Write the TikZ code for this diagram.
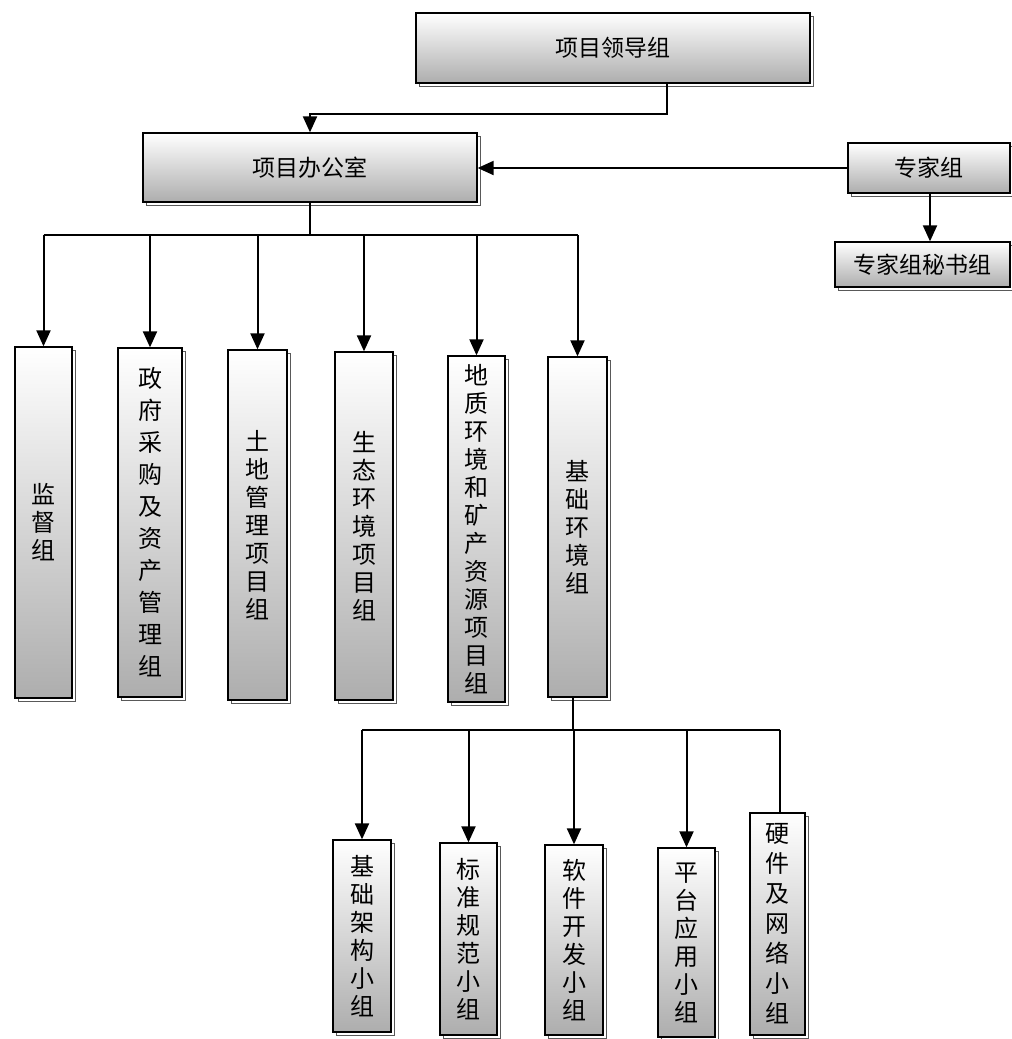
\documentclass[tikz,border=0pt]{standalone}
\usepackage{fontspec}
\newfontfamily\cjk{Noto Sans CJK SC}
\usetikzlibrary{arrows.meta,shadows}
\tikzset{
  boxbase/.style={draw, line width=1.3pt, top color=white, bottom color=black!32,
    inner sep=0pt, general shadow={shadow xshift=3pt, shadow yshift=-3pt, fill=none, draw=black!65, line width=0.6pt}},
  hbox/.style={boxbase, font=\cjk\fontsize{23}{26}\selectfont},
  vbox/.style={boxbase, align=center, font=\cjk\fontsize{24}{#1}\selectfont},
  vbox/.default=28,
  conn/.style={line width=2pt},
  arr/.style={conn, -{Triangle[length=16pt,width=14pt]}}
}
\begin{document}
\begin{tikzpicture}[x=1pt,y=-1pt]
\fill[white] (0,0) rectangle (1012,1039);
\useasboundingbox (0,0) rectangle (1012,1039);

% top level
\node[hbox, minimum width=394pt, minimum height=70pt] (lead) at (613,48) {项目领导组};
\node[hbox, minimum width=334pt, minimum height=69pt] (office) at (310,167.5) {项目办公室};
\node[hbox, minimum width=162pt, minimum height=50pt] (expert) at (929,168) {专家组};
\node[hbox, minimum width=175pt, minimum height=45pt] (sec) at (922.5,264.5) {专家组秘书组};

% second level
\node[vbox, minimum width=57pt, minimum height=351pt] (g1) at (43.5,522.5) {监\\督\\组};
\node[vbox=32, minimum width=64pt, minimum height=349pt] (g2) at (150,522.5) {政\\府\\采\\购\\及\\资\\产\\管\\理\\组};
\node[vbox, minimum width=59pt, minimum height=350pt] (g3) at (257.5,525) {土\\地\\管\\理\\项\\目\\组};
\node[vbox, minimum width=58pt, minimum height=348pt] (g4) at (364,526) {生\\态\\环\\境\\项\\目\\组};
\node[vbox, minimum width=57pt, minimum height=346pt] (g5) at (476.5,529) {地\\质\\环\\境\\和\\矿\\产\\资\\源\\项\\目\\组};
\node[vbox, minimum width=59pt, minimum height=340pt] (g6) at (577.5,527) {基\\础\\环\\境\\组};

% third level
\node[vbox, minimum width=58pt, minimum height=192pt] (s1) at (362,936) {基\\础\\架\\构\\小\\组};
\node[vbox, minimum width=57pt, minimum height=192pt] (s2) at (468.5,939) {标\\准\\规\\范\\小\\组};
\node[vbox, minimum width=58pt, minimum height=190pt] (s3) at (574,940) {软\\件\\开\\发\\小\\组};
\node[vbox, minimum width=57pt, minimum height=189pt] (s4) at (686.5,942.5) {平\\台\\应\\用\\小\\组};
\node[vbox=30, minimum width=55pt, minimum height=222pt] (s5) at (777.5,924) {硬\\件\\及\\网\\络\\小\\组};

% connectors
\coordinate (j1) at (667,114);
\draw[arr] (lead.south -| j1) -- (j1) -| (office.north);
\draw[arr] (expert.west) -- (expert.west -| office.east);
\coordinate (j2) at (930,0);
\draw[arr] (expert.south -| j2) -- (sec.north -| j2);

\coordinate (bus) at (310,235);
\draw[conn] (office.south) -- (bus);
\draw[conn] (bus -| g1.north) -- (bus -| g6.north);
\foreach \g in {g1,g2,g3,g4,g5,g6}
  \draw[arr] (bus -| \g.north) -- (\g.north);

\coordinate (bus2) at (573,730);
\draw[conn] (g6.south -| bus2) -- (bus2);
\coordinate (hwx) at (780,0);
\draw[conn] (bus2 -| s1.north) -- (bus2 -| hwx);
\foreach \s in {s1,s2,s3,s4}
  \draw[arr] (bus2 -| \s.north) -- (\s.north);
\draw[conn] (bus2 -| hwx) -- (s5.north -| hwx);
\end{tikzpicture}
\end{document}
